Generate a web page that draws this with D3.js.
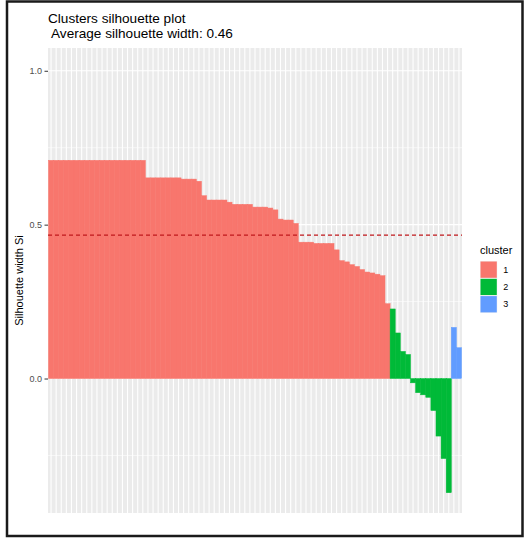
<!DOCTYPE html>
<html>
<head>
<meta charset="utf-8">
<script src="https://cdn.jsdelivr.net/npm/d3@7"></script>
<style>
  body { margin: 0; background: #fff; }
  svg { display: block; font-family: "Liberation Sans", Arial, sans-serif; }
</style>
</head>
<body>
<svg width="524" height="538"></svg>
<script>
var cluster1 = [0.709, 0.709, 0.709, 0.709, 0.709, 0.709, 0.709, 0.709, 0.709, 0.709,
  0.709, 0.709, 0.709, 0.709, 0.709, 0.709, 0.709, 0.709, 0.709,
  0.652, 0.652, 0.652, 0.652, 0.652, 0.652, 0.652, 0.648, 0.648, 0.648, 0.641,
  0.594, 0.580, 0.580, 0.580, 0.580, 0.573, 0.566, 0.566, 0.566, 0.566,
  0.557, 0.557, 0.557, 0.554, 0.548, 0.518, 0.515, 0.515, 0.504,
  0.443, 0.443, 0.443, 0.439, 0.439, 0.439, 0.439, 0.418,
  0.383, 0.379, 0.370, 0.364, 0.354, 0.346, 0.343, 0.339, 0.334, 0.243];
var cluster2 = [0.226, 0.148, 0.088, 0.078, -0.014, -0.046, -0.053, -0.061, -0.104, -0.187, -0.260, -0.371];
var cluster3 = [0.166, 0.100];

var clusterNames = ["1", "2", "3"];
var clusterColors = ["#F8766D", "#00BA38", "#619CFF"];
var yTicks = [0, 0.5, 1.0];
var yMinorTicks = [-0.25, 0.25, 0.75];
var avgWidth = 0.466;

var titleText = "Clusters silhouette plot";
var subtitleText = " Average silhouette width: 0.46";

// flatten to one row per bar
var data = [];
[cluster1, cluster2, cluster3].forEach(function(vals, c) {
  vals.forEach(function(v) {
    data.push({ id: data.length, cluster: clusterNames[c], sil: v });
  });
});

var svg = d3.select("svg");

// panel box (note: "top" is taken by window.top, so use other names)
var panelLeft = 48, panelRight = 462, panelTop = 48, panelBottom = 513;

var xScale = d3.scaleBand()
  .domain(data.map(function(d) { return d.id; }))
  .range([panelLeft, panelRight])
  .paddingInner(0)
  .paddingOuter(0.1);

var yScale = d3.scaleLinear()
  .domain([-0.437, 1.074])
  .range([panelBottom, panelTop]);

var color = d3.scaleOrdinal().domain(clusterNames).range(clusterColors);

// outer frame
svg.append("rect")
  .attr("x", 7).attr("y", 1.5)
  .attr("width", 515.5).attr("height", 534.5)
  .attr("fill", "none")
  .attr("stroke", "#1a1a1a")
  .attr("stroke-width", 2.5);

// grey panel
svg.append("rect")
  .attr("x", panelLeft).attr("y", panelTop)
  .attr("width", panelRight - panelLeft).attr("height", panelBottom - panelTop)
  .attr("fill", "#EBEBEB");

// minor horizontal grid
svg.selectAll(".hminor")
  .data(yMinorTicks)
  .enter().append("line")
  .attr("x1", panelLeft).attr("x2", panelRight)
  .attr("y1", function(d) { return yScale(d); })
  .attr("y2", function(d) { return yScale(d); })
  .attr("stroke", "#fff")
  .attr("stroke-width", 0.6);

// major horizontal grid
svg.selectAll(".hmajor")
  .data(yTicks)
  .enter().append("line")
  .attr("x1", panelLeft).attr("x2", panelRight)
  .attr("y1", function(d) { return yScale(d); })
  .attr("y2", function(d) { return yScale(d); })
  .attr("stroke", "#fff")
  .attr("stroke-width", 1.1);

// vertical grid, one per observation
svg.selectAll(".vgrid")
  .data(data)
  .enter().append("line")
  .attr("x1", function(d) { return xScale(d.id) + xScale.bandwidth() / 2; })
  .attr("x2", function(d) { return xScale(d.id) + xScale.bandwidth() / 2; })
  .attr("y1", panelTop).attr("y2", panelBottom)
  .attr("stroke", "#fff")
  .attr("stroke-width", 1.1);

// bars (stroke in the same colour hides the seams between neighbours)
svg.selectAll(".bar")
  .data(data)
  .enter().append("rect")
  .attr("class", "bar")
  .attr("x", function(d) { return xScale(d.id); })
  .attr("y", function(d) { return yScale(Math.max(0, d.sil)); })
  .attr("width", xScale.bandwidth())
  .attr("height", function(d) { return Math.abs(yScale(d.sil) - yScale(0)); })
  .attr("fill", function(d) { return color(d.cluster); })
  .attr("stroke", function(d) { return color(d.cluster); })
  .attr("stroke-width", 0.5);

// average line
svg.append("line")
  .attr("x1", panelLeft).attr("x2", panelRight)
  .attr("y1", yScale(avgWidth)).attr("y2", yScale(avgWidth))
  .attr("stroke", "#C0181C")
  .attr("stroke-width", 1.1)
  .attr("stroke-dasharray", "4,3");

// y axis
var yAxis = svg.append("g")
  .attr("transform", "translate(" + panelLeft + ",0)")
  .call(d3.axisLeft(yScale).tickValues(yTicks).tickFormat(d3.format(".1f")).tickSize(3.5).tickPadding(2.5));
yAxis.select(".domain").remove();
yAxis.selectAll(".tick line").attr("stroke", "#333333");
yAxis.selectAll(".tick text")
  .attr("fill", "#4D4D4D")
  .attr("font-size", "9px")
  .attr("font-family", "Liberation Sans, Arial, sans-serif");

svg.append("text")
  .attr("transform", "translate(23," + ((panelTop + panelBottom) / 2) + ") rotate(-90)")
  .attr("text-anchor", "middle")
  .attr("font-size", "11px")
  .attr("fill", "#000")
  .text("Silhouette width Si");

// titles
svg.append("text")
  .attr("x", 48).attr("y", 23)
  .attr("font-size", "13.6px")
  .attr("fill", "#000")
  .text(titleText);
svg.append("text")
  .attr("x", 48).attr("y", 38)
  .attr("font-size", "13.6px")
  .attr("fill", "#000")
  .attr("xml:space", "preserve")
  .style("white-space", "pre")
  .text(subtitleText);

// legend
var legend = svg.append("g").attr("transform", "translate(480,254)");
legend.append("text")
  .attr("x", 0).attr("y", 0)
  .attr("font-size", "11px")
  .attr("fill", "#000")
  .text("cluster");
var keySize = 17.3;
clusterNames.forEach(function(name, i) {
  legend.append("rect")
    .attr("x", 0).attr("y", 7 + i * keySize)
    .attr("width", keySize).attr("height", keySize)
    .attr("fill", "#F2F2F2");
  legend.append("rect")
    .attr("x", 0.5).attr("y", 7.5 + i * keySize)
    .attr("width", keySize - 1).attr("height", keySize - 1)
    .attr("fill", color(name));
  legend.append("text")
    .attr("x", keySize + 6).attr("y", 7 + i * keySize + keySize / 2 + 3.2)
    .attr("font-size", "9px")
    .attr("fill", "#000")
    .text(name);
});
</script>
</body>
</html>
